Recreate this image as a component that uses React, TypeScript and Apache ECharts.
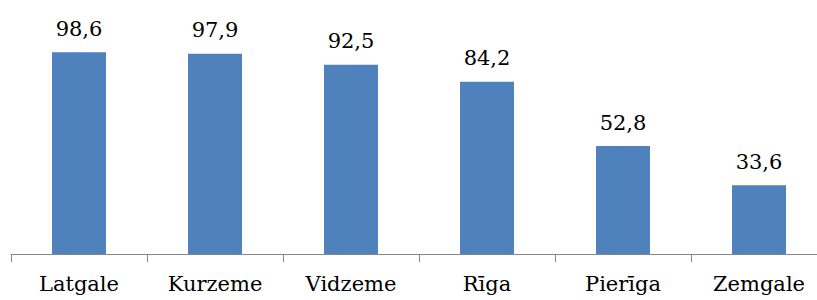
import React, { useEffect, useRef } from "react";
import * as echarts from "echarts";

const categories = ["Latgale", "Kurzeme", "Vidzeme", "Rīga", "Pierīga", "Zemgale"];
const values = [98.6, 97.9, 92.5, 84.2, 52.8, 33.6];

const FONT = "DejaVu Serif";

export default function App() {
  const ref = useRef<HTMLDivElement>(null);
  useEffect(() => {
    if (!ref.current) return;
    const chart = echarts.init(ref.current, null, { renderer: "svg" });
    chart.setOption({
      animation: false,
      backgroundColor: "#ffffff",
      grid: { left: 11, right: 13, top: 49.5, bottom: 46, containLabel: false },
      xAxis: {
        type: "category",
        data: categories,
        axisLine: { lineStyle: { color: "#868686", width: 1 } },
        axisTick: { show: true, length: 8, lineStyle: { color: "#868686" } },
        axisLabel: {
          color: "#000",
          fontFamily: FONT,
          fontSize: 21,
          margin: 19,
          interval: 0,
        },
      },
      yAxis: { type: "value", min: 0, max: 100, show: false },
      series: [
        {
          type: "bar",
          data: values,
          barWidth: 54,
          itemStyle: { color: "#4F81BD" },
          label: {
            show: true,
            position: "top",
            distance: 13,
            color: "#000",
            fontFamily: FONT,
            fontSize: 21,
            formatter: (p: any) => String(p.value).replace(".", ","),
          },
        },
      ],
    });
    return () => chart.dispose();
  }, []);
  return (
    <div style={{ position: "fixed", left: 0, top: 0, width: 817, height: 300, overflow: "hidden", background: "#fff" }}>
      <div ref={ref} style={{ width: 840, height: 300 }} />
    </div>
  );
}
